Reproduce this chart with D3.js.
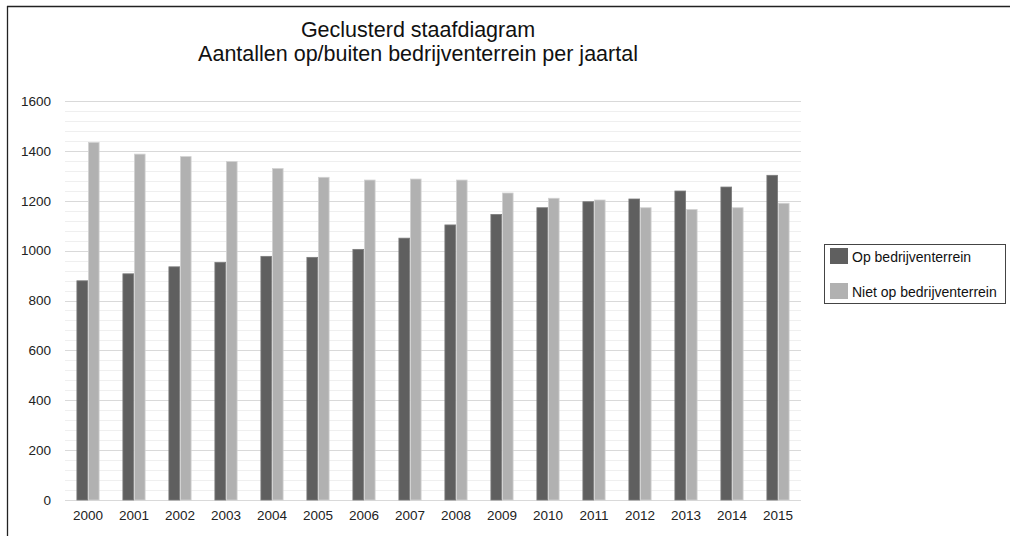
<!DOCTYPE html>
<html>
<head>
<meta charset="utf-8">
<script src="https://cdn.jsdelivr.net/npm/d3@7"></script>
<style>
  html, body { margin: 0; padding: 0; background: #fff; }
  svg { display: block; font-family: "Liberation Sans", Arial, sans-serif; }
</style>
</head>
<body>
<svg id="chart" width="1010" height="536"></svg>
<script>
// Jaartallen (categorieën)
const years = ["2000","2001","2002","2003","2004","2005","2006","2007",
               "2008","2009","2010","2011","2012","2013","2014","2015"];
// Aantallen op bedrijventerrein
const opBedrijventerrein = [879, 907, 935, 953, 977, 973, 1005, 1050,
                            1103, 1145, 1172, 1196, 1207, 1239, 1255, 1302];
// Aantallen niet op bedrijventerrein
const nietOpBedrijventerrein = [1434, 1387, 1377, 1357, 1329, 1294, 1283, 1287,
                                1283, 1231, 1210, 1203, 1172, 1165, 1172, 1190];
const seriesNames = ["Op bedrijventerrein", "Niet op bedrijventerrein"];
const yTicks = [0, 200, 400, 600, 800, 1000, 1200, 1400, 1600];
const titleLines = ["Geclusterd staafdiagram", "Aantallen op/buiten bedrijventerrein per jaartal"];

const colors = ["#5f5f5f", "#b1b1b1"];
const strokes = ["#7c7c7c", "#d2d2d2"];

const svg = d3.select("#chart");
const plot = { left: 65, right: 801, top: 101, bottom: 500 };

// Kader (boven- en linkerrand)
svg.append("line").attr("x1", 7).attr("x2", 1010).attr("y1", 6.5).attr("y2", 6.5)
  .attr("stroke", "#222").attr("stroke-width", 1.3);
svg.append("line").attr("x1", 7.5).attr("x2", 7.5).attr("y1", 6).attr("y2", 536)
  .attr("stroke", "#222").attr("stroke-width", 1.3);

// Titel
svg.append("g").selectAll("text").data(titleLines).join("text")
  .attr("x", 418).attr("y", (d, i) => 37 + i * 24)
  .attr("text-anchor", "middle")
  .attr("font-size", 21.5).attr("fill", "#111")
  .text(d => d);

const y = d3.scaleLinear().domain([0, 1600]).range([plot.bottom, plot.top]);
const x = d3.scaleBand().domain(years).range([plot.left, plot.right])
  .paddingInner(0.5).paddingOuter(0.25);
const xs = d3.scaleBand().domain([0, 1]).range([0, x.bandwidth()]);

// Hulplijnen (minor elke 40, major elke 200)
const minor = d3.range(0, 1601, 40).filter(v => v % 200 !== 0);
svg.append("g").selectAll("line").data(minor).join("line")
  .attr("x1", plot.left).attr("x2", plot.right)
  .attr("y1", d => Math.round(y(d)) + 0.5).attr("y2", d => Math.round(y(d)) + 0.5)
  .attr("stroke", "#efefef").attr("stroke-width", 1);
svg.append("g").selectAll("line").data(yTicks).join("line")
  .attr("x1", plot.left).attr("x2", plot.right)
  .attr("y1", d => Math.round(y(d)) + 0.5).attr("y2", d => Math.round(y(d)) + 0.5)
  .attr("stroke", "#d9d9d9").attr("stroke-width", 1);

// Y-as
const yAxis = svg.append("g").attr("transform", `translate(${plot.left},0)`)
  .call(d3.axisLeft(y).tickValues(yTicks).tickFormat(d3.format("d")).tickSize(0).tickPadding(14));
yAxis.select(".domain").remove();
yAxis.selectAll("text").attr("font-size", 13.5).attr("fill", "#222")
  .attr("font-family", "Liberation Sans, Arial, sans-serif");

// X-as
const xAxis = svg.append("g").attr("transform", `translate(0,${plot.bottom})`)
  .call(d3.axisBottom(x).tickSize(0).tickPadding(10));
xAxis.select(".domain").remove();
xAxis.selectAll("text").attr("font-size", 13.5).attr("fill", "#222")
  .attr("font-family", "Liberation Sans, Arial, sans-serif");

// Staven
const rows = years.map((yr, i) => ({ year: yr, vals: [opBedrijventerrein[i], nietOpBedrijventerrein[i]] }));
const groups = svg.append("g").selectAll("g").data(rows).join("g")
  .attr("transform", d => `translate(${x(d.year)},0)`);
groups.selectAll("rect").data(d => d.vals.map((v, k) => ({ v, k }))).join("rect")
  .attr("x", d => xs(d.k) + 0.4)
  .attr("width", xs.bandwidth() - 0.8)
  .attr("y", d => y(d.v))
  .attr("height", d => y(0) - y(d.v))
  .attr("fill", d => colors[d.k])
  .attr("stroke", d => strokes[d.k]).attr("stroke-width", 0.8);

// Legenda
const lg = svg.append("g");
lg.append("rect").attr("x", 824.5).attr("y", 244.5).attr("width", 181).attr("height", 59)
  .attr("fill", "#fff").attr("stroke", "#444").attr("stroke-width", 1);
const items = lg.selectAll("g").data(seriesNames).join("g")
  .attr("transform", (d, i) => `translate(830,${248 + i * 35})`);
items.append("rect").attr("width", 18).attr("height", 16)
  .attr("fill", (d, i) => colors[i]);
items.append("text").attr("x", 22).attr("y", 14)
  .attr("font-size", 14).attr("fill", "#111").text(d => d);
</script>
</body>
</html>
